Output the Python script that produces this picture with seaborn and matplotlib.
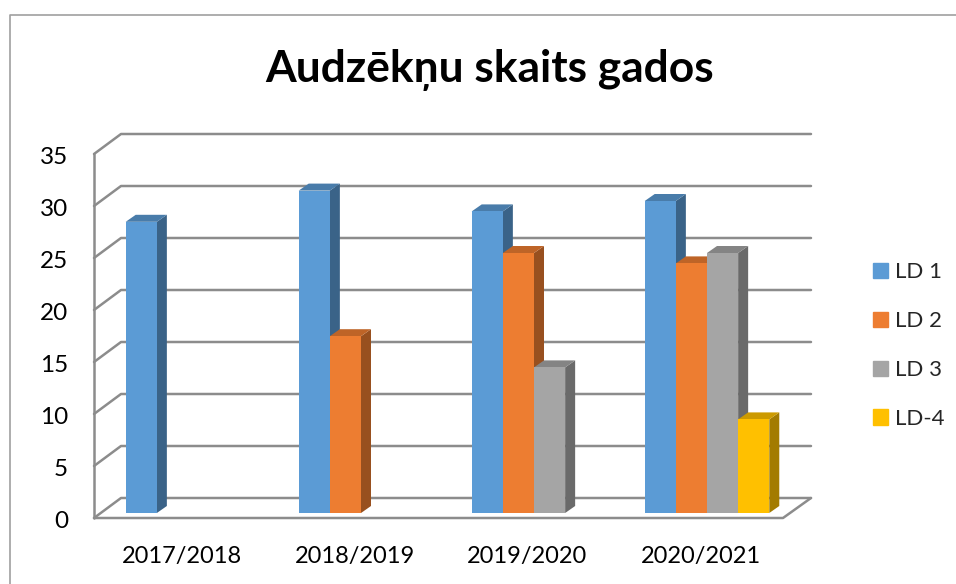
# -*- coding: utf-8 -*-
"""Audzeknu skaits gados - excel style 3D columns drawn on a seaborn barplot."""

import numpy as np
import pandas as pd
import matplotlib
matplotlib.use('Agg')
import matplotlib.pyplot as plt
from matplotlib.colors import to_rgb
from matplotlib.lines import Line2D
from matplotlib.patches import Patch, Polygon
from matplotlib.transforms import ScaledTranslation
import seaborn as sns

years = ['2017/2018', '2018/2019', '2019/2020', '2020/2021']
series = ['LD 1', 'LD 2', 'LD 3', 'LD-4']
ld1 = [28, 31, 29, 30]
ld2 = [np.nan, 17, 25, 24]
ld3 = [np.nan, np.nan, 14, 25]
ld4 = [np.nan, np.nan, np.nan, 9]
y_ticks = [0, 5, 10, 15, 20, 25, 30, 35]
colors = ['#5B9BD5', '#ED7D31', '#A5A5A5', '#FFC000']

W, H = 956, 584
GRID = '#8C8C8C'
FONT = 'Lato'

df = pd.DataFrame({
    'year': years * 4,
    'series': [s for s in series for _ in years],
    'value': ld1 + ld2 + ld3 + ld4,
})

sns.set_theme(style='white')
plt.rcParams['font.family'] = [FONT, 'DejaVu Sans']

fig = plt.figure(figsize=(W / 100, H / 100), dpi=100)
# axes rectangle is the plane the bar fronts stand on
ax = fig.add_axes([101.5 / W, (H - 513) / H, 692 / W, 364 / H])
sns.barplot(data=df, x='year', y='value', hue='series', hue_order=series,
            order=years, palette=colors, width=0.72, gap=0, saturation=1,
            legend=False, edgecolor='none', linewidth=0, ax=ax)
ax.set_xlim(-0.5, 3.5)
ax.set_ylim(0, 35)
ax.set_xlabel('')
ax.set_ylabel('')
ax.patch.set_visible(False)
for side in ax.spines.values():
    side.set_visible(False)

px_x = 1 / 173
px_y = 35 / 364


def shade(color, factor):
    return tuple(c * factor for c in to_rgb(color))


# walls: front edge and back edge of the box, given in pixels from the bar plane
fl, fr = -0.5 - 7.5 * px_x, 3.5 - 10.5 * px_x
bl, br = fl + 27 * px_x, fr + 28 * px_x
front_dy, back_dy = -5 * px_y, 15 * px_y
line_kw = dict(color=GRID, lw=1.8, clip_on=False, zorder=1, solid_capstyle='round')
for t in y_ticks:
    ax.plot([fl, bl, br], [t + front_dy, t + back_dy, t + back_dy], **line_kw)
ax.plot([fl, fl], [y_ticks[0] + front_dy, y_ticks[-1] + front_dy], **line_kw)
ax.plot([fl, fr, br], [front_dy, front_dy, back_dy], **line_kw)

# side and top faces for every real bar
depth_x, depth_y = 10 * px_x, 7 * px_y
bars = [p for p in ax.patches if p.get_height() > 0]
bars.sort(key=lambda p: p.get_x())
for i, bar in enumerate(bars):
    x0, x1 = bar.get_x(), bar.get_x() + bar.get_width()
    top = bar.get_height()
    base = bar.get_facecolor()
    z = 3 + i
    bar.set_zorder(z + 0.2)
    bar.set_clip_on(False)
    ax.add_patch(Polygon([(x1, 0), (x1 + depth_x, depth_y), (x1 + depth_x, top + depth_y), (x1, top)],
                         closed=True, fc=shade(base, 0.64), ec='none', zorder=z, clip_on=False))
    ax.add_patch(Polygon([(x0, top), (x0 + depth_x, top + depth_y), (x1 + depth_x, top + depth_y), (x1, top)],
                         closed=True, fc=shade(base, 0.8), ec='none', zorder=z, clip_on=False))

ax.set_yticks(y_ticks)
ax.tick_params(axis='both', length=0, labelcolor='black')
ax.tick_params(axis='y', pad=24, labelsize=17.5)
ax.tick_params(axis='x', pad=24, labelsize=17)
down = ScaledTranslation(0, -7 / 100, fig.dpi_scale_trans)
left = ScaledTranslation(-6.5 / 100, 0, fig.dpi_scale_trans)
for label in ax.get_yticklabels():
    label.set_transform(label.get_transform() + down)
for label in ax.get_xticklabels():
    label.set_transform(label.get_transform() + left)

fig.text(490 / W, (H - 70) / H, 'Audzēkņu skaits gados', ha='center', va='center',
         fontsize=31.9, fontweight='bold', color='black')

handles = [Patch(color=c, label=s) for c, s in zip(colors, series)]
ax.legend(handles=handles, loc='center left', bbox_to_anchor=(873 / W, (H - 345.5) / H),
          bbox_transform=fig.transFigure, frameon=False, fontsize=16,
          handlelength=0.68, handleheight=0.68, handletextpad=0.3,
          labelspacing=1.3, borderpad=0, borderaxespad=0)

# chart area frame, only top and left edges fall inside the crop
fig.add_artist(Line2D([9.5 / W, 9.5 / W, 1], [0, (H - 14.5) / H, (H - 14.5) / H],
                      transform=fig.transFigure, color='#A0A0A0', lw=1.2))

fig.savefig('out.png', dpi=100)
